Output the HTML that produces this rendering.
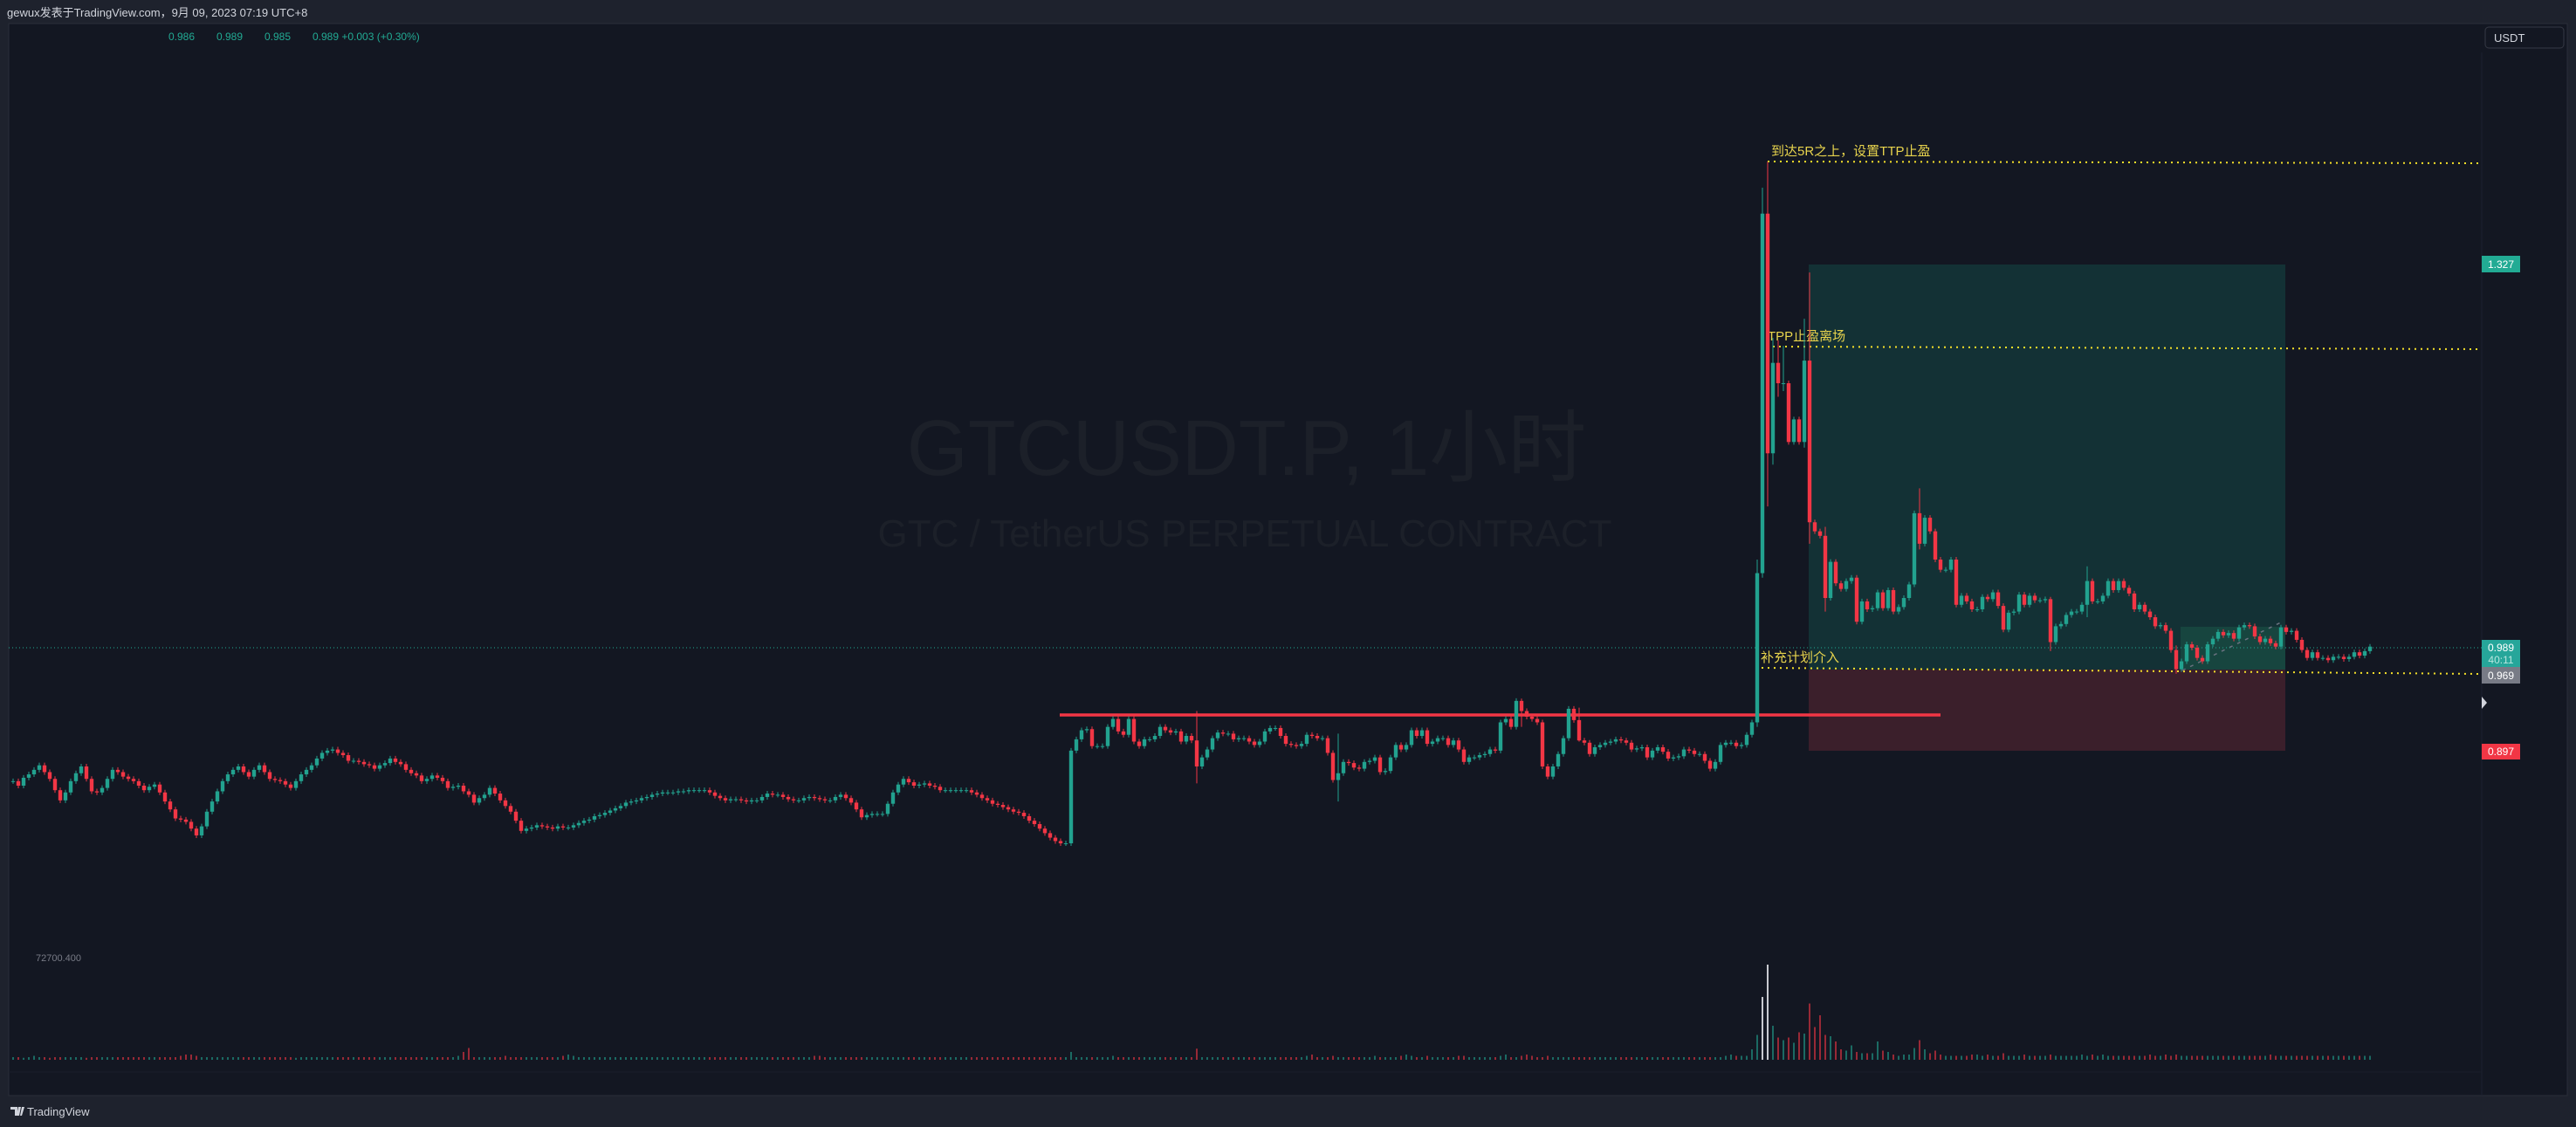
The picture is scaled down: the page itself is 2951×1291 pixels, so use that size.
<!DOCTYPE html>
<html><head><meta charset="utf-8"><style>
html,body{margin:0;padding:0;background:#1e222d;width:2951px;height:1291px;overflow:hidden}
svg{display:block}
text{font-family:"Liberation Sans","Noto Sans CJK SC",sans-serif}
</style></head><body>
<svg id="chart" width="2951" height="1291" viewBox="0 0 2951 1291" xmlns="http://www.w3.org/2000/svg">
<rect x="0" y="0" width="2951" height="1291" fill="#1e222d"/>
<text x="8" y="19" font-size="13" fill="#d1d4dc">gewux发表于TradingView.com，9月 09, 2023 07:19 UTC+8</text>
<rect x="10" y="27" width="2931" height="1228" fill="#131722" stroke="#2a2e39" stroke-width="1"/>
<line x1="2843" y1="60" x2="2843" y2="1255" stroke="#1c2030" stroke-width="1"/>
<line x1="10" y1="1228" x2="2843" y2="1228" stroke="#1a1e29" stroke-width="1"/>
<text x="1428" y="544" font-size="90" fill="#1c2029" text-anchor="middle">GTCUSDT.P, 1小时</text>
<text x="1426" y="626" font-size="44" fill="#1c2029" text-anchor="middle">GTC / TetherUS PERPETUAL CONTRACT</text>
<g font-size="12" fill="#22ab94">
<text x="193" y="46">0.986</text>
<text x="248" y="46">0.989</text>
<text x="303" y="46">0.985</text>
<text x="358" y="46">0.989  +0.003 (+0.30%)</text>
</g>
<g>
<rect x="2847" y="31" width="90" height="24" rx="4" fill="#131722" stroke="#363a45"/>
<text x="2857" y="48" font-size="13" fill="#d1d4dc">USDT</text>
</g>
<rect x="2072" y="303" width="546" height="464" fill="#133135"/>
<rect x="2072" y="767" width="546" height="93" fill="#3b1f2b"/>
<rect x="2498" y="718" width="120" height="49" fill="#17453f"/>
<line x1="2500" y1="768" x2="2615" y2="712" stroke="#6b7280" stroke-width="1.5" stroke-dasharray="4 6"/>
<line x1="10" y1="742" x2="2843" y2="742" stroke="#22ab94" stroke-width="1" stroke-dasharray="1 3"/>
<line x1="1214" y1="819" x2="2223" y2="819" stroke="#f23645" stroke-width="3.5"/>
<line x1="2025" y1="185" x2="2843" y2="187" stroke="#f5e02a" stroke-width="2" stroke-dasharray="2 5"/>
<text x="2029" y="178" font-size="15" fill="#e8d44d">到达5R之上，设置TTP止盈</text>
<line x1="2031" y1="397" x2="2843" y2="400" stroke="#f5e02a" stroke-width="2" stroke-dasharray="2 5"/>
<text x="2025" y="390" font-size="15" fill="#e8d44d">TPP止盈离场</text>
<line x1="2018" y1="765" x2="2843" y2="772" stroke="#f5e02a" stroke-width="2" stroke-dasharray="2 5"/>
<text x="2017" y="758" font-size="15" fill="#e8d44d">补充计划介入</text>
<g id="candles"></g>
<g id="volumes"></g>
<text x="41" y="1101" font-size="11" fill="#787b86">72700.400</text>
<g>
<rect x="2843" y="293" width="44" height="19" fill="#22ab94"/>
<text x="2865" y="307" font-size="12" fill="#fff" text-anchor="middle">1.327</text></g>
<g>
<rect x="2843" y="733" width="44" height="31" fill="#26a69a"/>
<text x="2865" y="746" font-size="12" fill="#fff" text-anchor="middle">0.989</text>
<text x="2865" y="760" font-size="12" fill="#b9e6df" text-anchor="middle">40:11</text></g>
<g>
<rect x="2843" y="764" width="44" height="19" fill="#787b86"/>
<text x="2865" y="778" font-size="12" fill="#fff" text-anchor="middle">0.969</text></g>
<g>
<rect x="2843" y="852" width="44" height="18" fill="#f23645"/>
<text x="2865" y="865" font-size="12" fill="#fff" text-anchor="middle">0.897</text></g>
<path d="M2843,798 L2849,805 L2843,812 Z" fill="#d1d4dc"/>
<g>
<path d="M12,1268 h8 v10 h-3 v-7 h-5 z M21,1268 h3 l-2,10 h-3 z M25,1268 h3 l-3,10 h-2z" fill="#d1d4dc"/>
<text x="31" y="1278" font-size="13" fill="#d1d4dc">TradingView</text></g>
</svg>
<script>
const closesA=[0.870,0.866,0.873,0.876,0.880,0.884,0.878,0.872,0.862,0.853,
0.860,0.870,0.877,0.883,0.872,0.861,0.860,0.864,0.872,0.880,
0.878,0.874,0.872,0.870,0.866,0.862,0.865,0.867,0.860,0.852,
0.845,0.837,0.836,0.834,0.828,0.822,0.830,0.843,0.852,0.861,
0.870,0.876,0.880,0.883,0.878,0.874,0.880,0.884,0.878,0.872,
0.871,0.870,0.867,0.864,0.870,0.876,0.880,0.884,0.890,0.895,
0.897,0.898,0.895,0.893,0.888,0.888,0.887,0.885,0.884,0.881,
0.884,0.886,0.890,0.887,0.885,0.880,0.877,0.875,0.870,0.872,
0.875,0.873,0.870,0.864,0.865,0.866,0.861,0.858,0.851,0.855,
0.858,0.864,0.859,0.853,0.848,0.843,0.835,0.826,0.828,0.829,
0.831,0.830,0.829,0.828,0.830,0.829,0.829,0.831,0.833,0.835,
0.836,0.839,0.840,0.842,0.844,0.846,0.848,0.851,0.852,0.853,
0.855,0.856,0.858,0.859,0.860,0.860,0.860,0.861,0.861,0.862,
0.862,0.862,0.862,0.860,0.857,0.855,0.853,0.854,0.854,0.853,
0.852,0.853,0.853,0.856,0.859,0.858,0.858,0.856,0.854,0.853,
0.853,0.855,0.856,0.855,0.854,0.853,0.853,0.856,0.858,0.855,
0.851,0.845,0.838,0.840,0.841,0.841,0.841,0.850,0.860,0.867,
0.872,0.869,0.866,0.867,0.868,0.866,0.865,0.862,0.862,0.862,
0.862,0.862,0.862,0.860,0.858,0.855,0.853,0.850,0.849,0.847,
0.845,0.843,0.842,0.839,0.835,0.832,0.828,0.824,0.820,0.817,0.815,0.815];
const closesB=[0.897,0.907,0.915,0.916,0.901,0.901,0.901,0.918,0.925,0.914,
0.911,0.925,0.905,0.901,0.907,0.907,0.910,0.918,0.915,0.913,
0.914,0.905,0.910,0.906,0.883,0.891,0.898,0.908,0.913,0.912,
0.912,0.907,0.908,0.908,0.905,0.902,0.905,0.914,0.917,0.917,
0.910,0.903,0.902,0.901,0.903,0.911,0.910,0.908,0.908,0.895,
0.871,0.877,0.887,0.886,0.882,0.881,0.887,0.888,0.891,0.878,
0.879,0.891,0.902,0.898,0.902,0.915,0.910,0.915,0.903,0.905,
0.908,0.908,0.902,0.906,0.898,0.887,0.891,0.891,0.893,0.894,
0.898,0.897,0.922,0.925,0.918,0.941,0.932,0.927,0.925,0.922,
0.883,0.874,0.883,0.894,0.908,0.934,0.924,0.906,0.904,0.894,
0.900,0.902,0.904,0.905,0.907,0.906,0.904,0.898,0.899,0.900,
0.891,0.897,0.900,0.896,0.890,0.891,0.892,0.898,0.897,0.894,
0.894,0.888,0.881,0.887,0.902,0.904,0.904,0.901,0.902,0.911,
0.922];
const closesC=[1.054,1.372,1.160,1.240,1.222,1.222,1.170,1.190,1.170,1.242,1.099,
1.091,1.087,1.032,1.064,1.045,1.040,1.047,1.050,1.011,1.029,
1.022,1.023,1.037,1.023,1.039,1.020,1.024,1.032,1.044,1.107,
1.080,1.103,1.091,1.066,1.057,1.057,1.066,1.026,1.034,1.029,
1.022,1.022,1.033,1.031,1.037,1.025,1.004,1.019,1.020,1.035,
1.026,1.034,1.030,1.030,1.031,0.993,1.007,1.009,1.017,1.020,
1.020,1.026,1.047,1.029,1.029,1.034,1.047,1.039,1.047,1.041,
1.036,1.022,1.026,1.020,1.015,1.007,1.008,1.003,0.986,0.969,
0.976,0.991,0.988,0.979,0.976,0.991,0.996,1.002,0.999,1.001,
0.996,1.006,1.008,1.007,0.998,0.993,0.996,0.992,0.989,1.006,
1.002,1.003,0.995,0.986,0.979,0.984,0.979,0.979,0.977,0.980,
0.980,0.978,0.980,0.984,0.981,0.985,0.989];
const firstOpen=0.870;
// sparse wick extremes: [candle index, high, low]
const wicks=[[226,0.932,0.868],[253,0.912,0.852],[288,0.943,0.918],[299,0.935,0.905],
[333,1.066,0.918],[334,1.395,1.050],[335,1.418,1.113],[336,1.262,1.150],[337,1.260,1.210],
[338,1.255,1.215],[342,1.279,1.165],[343,1.320,1.080],[346,1.095,1.020],[364,1.129,1.075],
[389,1.033,0.985],[396,1.060,1.015],[413,0.990,0.965]];
const volA=[2,2,1.5,2,3,2,2,1.5,2,2, 2,2,2,2,1.5,2,2,2,2,2, 2,2,2,2,2,2,2,2,2,2, 2,2,3,4,4,3,2,2,2,2, 2,2,2,2,2,2,2,2,2,2, 2,2,2,2,1.5,2,2,2,2,2, 2,2,2,2,2,2,2,2,2,2, 2,2,2,2,2,2,2,2,2,2, 2,2,2,2,2,3,6,9,2,2, 2,2,2,2,3,2,2,2,2,2, 2,2,2,2,2,3,4,3,2,2, 2,2,2,2,2,2,2,2,2,2, 2,2,2,2,2,2,2,2,2,2, 2,2,2,2,2,2,2,2,2,2, 2,2,2,2,2,2,2,2,2,2, 2,2,2,3,3,2,2,2,2,2, 2,2,2,2,2,2,2,2,2,2, 2,2,2,2,2,2,2,2,2,2, 2,2,2,2,2,2,2,2,2,2, 2,2,2,2,2,2,2,2,2,2, 2,2];
const volB=[6,2,2,2,2,2,2,2,3,2, 2,2,2,2,2,2,2,2,2,2, 2,2,2,2,8.5,2,2,2,2,2, 2,2,2,2,2,2,2,2,2,2, 2,2,2,2,2,3,4,2,2,2, 3,2,2,2,2,2,2,2,3,2, 2,2,2,3,4,3,2,2,3,2, 2,2,2,2,3,3,2,2,2,2, 2,2,3,4,2,2,3,4,3,2, 2,3,2,2,2,2,2,2,2,2, 2,2,2,2,2,2,2,2,2,2, 2,2,2,2,2,2,2,2,2,2, 2,2,2,2,2,3,4,3,3,3, 8];
const volC=[19,48,72.7,26,17,15,17,13,21,20, 43,25,34,19,18,14,8,7,11,6, 5,5,5,14,7,6,4,3,4,4, 9,15,8,5,7,4,3,3,3,3, 3,4,4,3,4,3,3,5,3,3, 3,4,3,3,3,3,4,3,3,3, 3,3,4,3,4,3,4,3,3,3, 3,3,3,3,3,4,3,3,4,3, 4,3,3,3,3,3,3,3,3,3, 3,3,3,3,3,3,3,3,4,3, 3,3,3,3,3,3,3,3,3,3, 3,3,3,3,3,3,3,3];
const volMax=72.7;

const NS='http://www.w3.org/2000/svg';
const closes=closesA.concat(closesB,closesC);
const vols=volA.concat(volB,volC);
const priceRef=1.327, yRef=303, pxPerUnit=1295;
function yScale(p){return yRef+(priceRef-p)*pxPerUnit;}
function xScale(i){return 15+i*6;}
const volBase=1214, volHeight=109;
function vScale(v){return v/volMax*volHeight;}
const UP='#22a28f', DOWN='#f23645';
const wickMap={};
wicks.forEach(w=>{wickMap[w[0]]=w;});
const gC=document.getElementById('candles');
const gV=document.getElementById('volumes');
for(let i=0;i<closes.length;i++){
  const o=i?closes[i-1]:firstOpen, c=closes[i];
  const up=c>=o, col=up?UP:DOWN, x=xScale(i);
  let yT=yScale(Math.max(o,c)), yB=yScale(Math.min(o,c));
  let wT=yT-3, wB=yB+3;
  if(wickMap[i]){wT=yScale(wickMap[i][1]);wB=yScale(wickMap[i][2]);}
  const w=document.createElementNS(NS,'line');
  
  
  w.setAttribute('x1',x);w.setAttribute('x2',x);
  w.setAttribute('y1',wT);w.setAttribute('y2',wB);
  w.setAttribute('stroke',col);w.setAttribute('stroke-width','1');
  gC.appendChild(w);
  const b=document.createElementNS(NS,'rect');
  
  
  b.setAttribute('x',x-2.2);b.setAttribute('width',4.4);
  b.setAttribute('y',yT);b.setAttribute('height',Math.max(1,yB-yT));
  b.setAttribute('fill',col);
  gC.appendChild(b);
  const h=vScale(vols[i]);
  const v=document.createElementNS(NS,'rect');
  
  
  v.setAttribute('x',x-1);v.setAttribute('width',2);
  v.setAttribute('y',volBase-h);v.setAttribute('height',h);
  v.setAttribute('fill',vols[i]>=45?'#c8cad0':(up?'rgba(34,162,143,0.6)':'rgba(242,54,69,0.6)'));
  gV.appendChild(v);
}
</script>
</body></html>
